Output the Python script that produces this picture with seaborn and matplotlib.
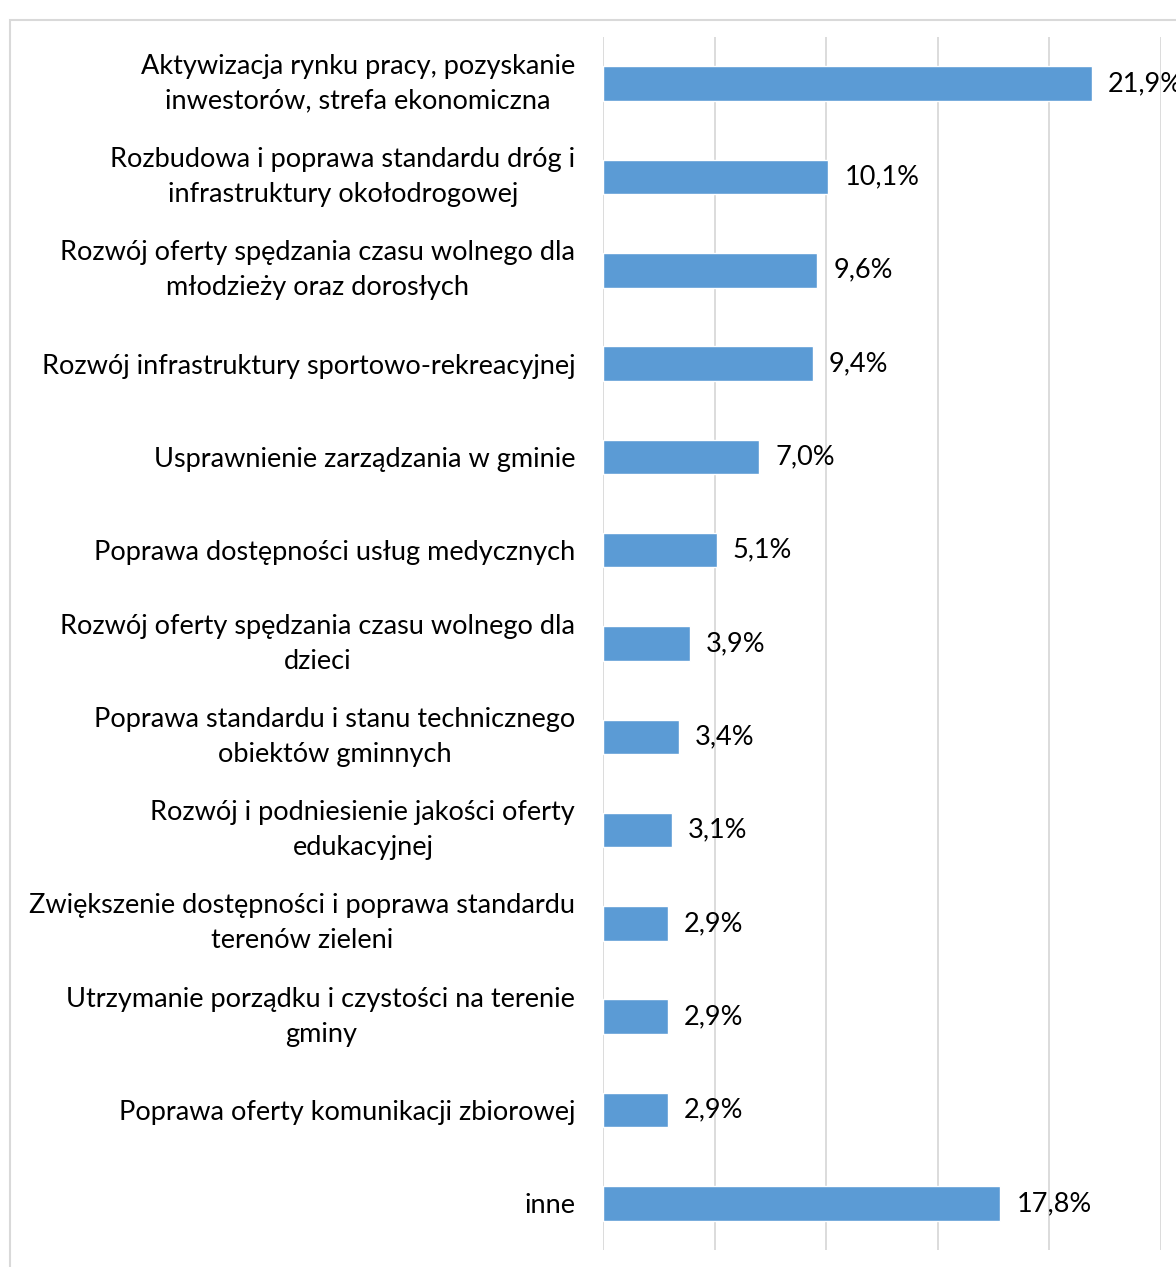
import matplotlib
matplotlib.use("Agg")
import matplotlib.pyplot as plt
import seaborn as sns
import pandas as pd
from matplotlib.patches import Rectangle

categories = [
    "Aktywizacja rynku pracy, pozyskanie\ninwestorów, strefa ekonomiczna",
    "Rozbudowa i poprawa standardu dróg i\ninfrastruktury okołodrogowej",
    "Rozwój oferty spędzania czasu wolnego dla\nmłodzieży oraz dorosłych",
    "Rozwój infrastruktury sportowo-rekreacyjnej",
    "Usprawnienie zarządzania w gminie",
    "Poprawa dostępności usług medycznych",
    "Rozwój oferty spędzania czasu wolnego dla\ndzieci",
    "Poprawa standardu i stanu technicznego\nobiektów gminnych",
    "Rozwój i podniesienie jakości oferty\nedukacyjnej",
    "Zwiększenie dostępności i poprawa standardu\nterenów zieleni",
    "Utrzymanie porządku i czystości na terenie\ngminy",
    "Poprawa oferty komunikacji zbiorowej",
    "inne",
]
values = [21.9, 10.1, 9.6, 9.4, 7.0, 5.1, 3.9, 3.4, 3.1, 2.9, 2.9, 2.9, 17.8]
x_ticks = [0, 5, 10, 15, 20, 25]

df = pd.DataFrame({"kategoria": categories, "udzial": values})

sns.set_theme(style="white")
plt.rcParams["font.family"] = ["Lato", "DejaVu Sans"]

W, H = 1176, 1267
FS = 19.5
fig = plt.figure(figsize=(W / 100, H / 100), dpi=100)
ax = fig.add_axes([603 / W, 1 - 1250 / H, (1161 - 603) / W, (1250 - 37) / H])

sns.barplot(data=df, x="udzial", y="kategoria", orient="h", color="#5B9BD5",
            saturation=1, width=0.37, ax=ax)

ax.set_xlim(0, 25)
ax.set_xticks(x_ticks)
ax.set_xticklabels([])
ax.xaxis.grid(True, color="#D9D9D9", linewidth=1.3)
ax.yaxis.grid(False)
ax.set_axisbelow(True)
for s in ax.spines.values():
    s.set_visible(False)
ax.set_xlabel("")
ax.set_ylabel("")
ax.tick_params(axis="y", length=0, pad=20, labelsize=FS, labelcolor="#000000")
ax.tick_params(axis="x", length=0)
for lbl in ax.get_yticklabels():
    lbl.set_multialignment("center")
    lbl.set_linespacing(1.5)
    if "\n" in lbl.get_text():
        lbl.set_verticalalignment("center")

for i, v in enumerate(values):
    ax.text(v + 0.72, i, f"{v:.1f}%".replace(".", ","), va="center", ha="left",
            fontsize=FS, color="#000000", clip_on=False)

# chart area border
fig.patches.append(Rectangle((10 / W, -0.1), 1.2, 1.1 - 20 / H,
                             transform=fig.transFigure, fill=False,
                             edgecolor="#D9D9D9", linewidth=1.5))

fig.savefig("out.png", dpi=100, facecolor="white")
